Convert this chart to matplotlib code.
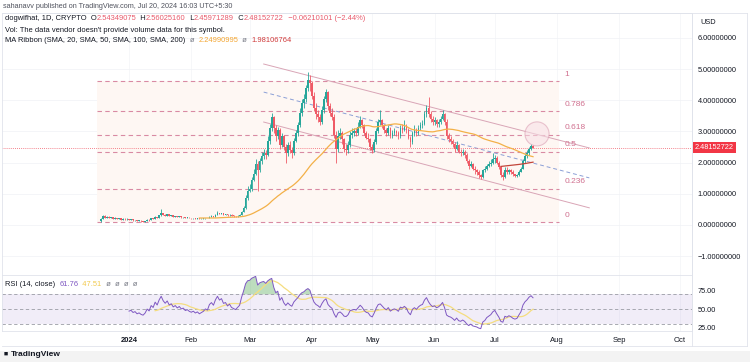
import numpy as np
import pandas as pd
import matplotlib
matplotlib.use('Agg')
import matplotlib.pyplot as plt
import matplotlib.dates as mdates
import matplotlib.transforms as mtransforms
from matplotlib.patches import Ellipse, Rectangle

plt.rcParams['font.family'] = ['Liberation Sans', 'DejaVu Sans']

# daily candles, 2023-12-18 .. 2024-07-20
start_day = '2023-12-18'
first_open = 0.13
close_dec = [0.20, 0.30, 0.24, 0.27, 0.22, 0.25, 0.20, 0.23, 0.19, 0.21, 0.17, 0.20, 0.18, 0.19]
high_dec = [0.24, 0.33, 0.31, 0.29, 0.28, 0.27, 0.26, 0.25, 0.24, 0.22, 0.22, 0.21, 0.21, 0.21]
low_dec = [0.11, 0.19, 0.22, 0.23, 0.21, 0.21, 0.19, 0.19, 0.18, 0.18, 0.16, 0.16, 0.17, 0.17]

close_jan = [0.17, 0.18, 0.15, 0.16, 0.13, 0.14, 0.12, 0.11, 0.13, 0.17, 0.15, 0.21, 0.19, 0.26, 0.23, 0.31,
             0.38, 0.33, 0.30, 0.34, 0.29, 0.31, 0.27, 0.29, 0.26, 0.28, 0.25, 0.26, 0.23, 0.24, 0.22]
high_jan = [0.20, 0.19, 0.19, 0.17, 0.17, 0.15, 0.15, 0.13, 0.14, 0.18, 0.18, 0.22, 0.22, 0.28, 0.27, 0.33,
            0.50, 0.40, 0.35, 0.36, 0.35, 0.33, 0.32, 0.30, 0.30, 0.29, 0.29, 0.27, 0.27, 0.25, 0.25]
low_jan = [0.16, 0.16, 0.14, 0.14, 0.12, 0.12, 0.11, 0.10, 0.10, 0.12, 0.14, 0.15, 0.18, 0.18, 0.22, 0.22,
           0.30, 0.32, 0.29, 0.29, 0.28, 0.28, 0.26, 0.26, 0.25, 0.25, 0.24, 0.24, 0.22, 0.22, 0.21]

close_feb = [0.21, 0.22, 0.20, 0.21, 0.19, 0.20, 0.21, 0.23, 0.22, 0.27, 0.29, 0.27, 0.33, 0.38, 0.35,
             0.37, 0.33, 0.34, 0.31, 0.33, 0.30, 0.29, 0.28, 0.30, 0.32, 0.42, 0.55, 0.85, 1.10]
high_feb = [0.23, 0.23, 0.23, 0.22, 0.21, 0.21, 0.22, 0.24, 0.24, 0.28, 0.31, 0.30, 0.35, 0.44, 0.40,
            0.39, 0.38, 0.35, 0.35, 0.35, 0.34, 0.31, 0.30, 0.31, 0.34, 0.45, 0.60, 0.95, 1.25]
low_feb = [0.20, 0.20, 0.19, 0.19, 0.18, 0.18, 0.19, 0.20, 0.21, 0.21, 0.26, 0.26, 0.27, 0.32, 0.34,
           0.34, 0.32, 0.32, 0.30, 0.30, 0.29, 0.27, 0.27, 0.27, 0.29, 0.31, 0.41, 0.52, 0.80]

close_mar = [1.15, 1.45, 1.65, 1.95, 1.75, 2.05, 2.20, 2.30, 2.25, 2.70, 3.10, 3.45, 3.10, 2.85, 3.05, 2.55,
             2.85, 2.50, 2.30, 2.55, 2.40, 2.30, 2.70, 2.95, 3.20, 3.60, 3.90, 4.05, 4.40, 4.65, 4.55]
high_mar = [1.30, 1.55, 1.80, 2.10, 2.05, 2.15, 2.35, 2.45, 2.40, 2.85, 3.25, 3.60, 3.50, 3.20, 3.15, 3.10,
            2.95, 2.90, 2.60, 2.65, 2.70, 2.50, 2.80, 3.05, 3.30, 3.75, 4.05, 4.20, 4.50, 4.90, 4.80]
low_mar = [1.05, 1.10, 1.40, 1.60, 1.10, 1.70, 1.95, 2.10, 2.10, 2.20, 2.60, 3.00, 2.95, 2.70, 2.75, 2.45,
           2.50, 2.40, 2.00, 2.20, 2.30, 2.15, 2.25, 2.65, 2.85, 3.15, 3.50, 3.75, 3.95, 4.30, 4.30]

close_apr = [4.15, 3.75, 3.55, 3.45, 3.30, 3.70, 4.05, 4.25, 3.80, 3.60, 3.45, 2.90, 2.45, 2.85, 2.95,
             2.75, 2.45, 2.40, 2.55, 2.90, 2.95, 3.00, 2.95, 3.15, 3.35, 3.20, 2.95, 2.80, 2.75, 2.50]
high_apr = [4.60, 4.25, 3.90, 3.70, 3.55, 3.80, 4.15, 4.35, 4.30, 3.90, 3.75, 3.55, 3.00, 3.05, 3.10,
            3.00, 2.80, 2.60, 2.70, 3.00, 3.10, 3.10, 3.10, 3.30, 3.50, 3.40, 3.25, 3.00, 2.95, 2.80]
low_apr = [4.05, 3.65, 3.40, 3.30, 3.20, 3.25, 3.60, 3.95, 3.70, 3.50, 3.35, 2.80, 2.00, 2.35, 2.75,
           2.60, 2.35, 2.25, 2.30, 2.50, 2.80, 2.85, 2.85, 2.90, 3.10, 3.10, 2.90, 2.75, 2.65, 2.40]

close_may = [2.40, 2.65, 3.00, 3.30, 3.35, 3.20, 3.05, 2.95, 3.10, 2.85, 2.95, 3.00, 2.95, 2.85, 3.10, 3.05,
             3.15, 3.05, 2.80, 2.65, 2.95, 3.05, 2.95, 3.10, 3.20, 3.25, 3.55, 3.75, 3.55, 3.40, 3.30]
high_may = [2.60, 2.75, 3.10, 3.40, 3.70, 3.40, 3.25, 3.10, 3.20, 3.15, 3.05, 3.10, 3.05, 3.00, 3.20, 3.25,
            3.35, 3.25, 3.10, 2.85, 3.00, 3.20, 3.10, 3.20, 3.30, 3.35, 3.65, 3.85, 4.10, 3.65, 3.50]
low_may = [2.30, 2.35, 2.60, 2.95, 3.20, 3.10, 2.95, 2.85, 2.90, 2.80, 2.80, 2.90, 2.85, 2.75, 2.80, 2.95,
           3.00, 2.95, 2.75, 2.50, 2.60, 2.85, 2.85, 2.90, 3.05, 3.10, 3.20, 3.45, 3.45, 3.30, 3.20]

close_jun = [3.35, 3.25, 3.30, 3.40, 3.55, 3.30, 2.85, 2.75, 2.70, 2.60, 2.45, 2.55, 2.35, 2.30, 2.35,
             2.25, 2.05, 1.90, 1.95, 1.80, 1.75, 1.70, 1.60, 1.55, 1.75, 1.80, 1.90, 1.95, 2.00, 2.10]
high_jun = [3.45, 3.40, 3.40, 3.50, 3.70, 3.60, 3.40, 2.95, 2.85, 2.75, 2.65, 2.70, 2.60, 2.45, 2.45,
            2.40, 2.30, 2.10, 2.05, 2.00, 1.90, 1.80, 1.75, 1.65, 1.80, 1.90, 1.95, 2.05, 2.10, 2.30]
low_jun = [3.20, 3.15, 3.15, 3.25, 3.35, 3.20, 2.75, 2.65, 2.60, 2.50, 2.35, 2.40, 2.30, 2.20, 2.25,
           2.15, 2.00, 1.80, 1.85, 1.75, 1.65, 1.60, 1.52, 1.47, 1.50, 1.70, 1.75, 1.85, 1.90, 1.95]

close_jul = [2.15, 2.00, 1.85, 1.60, 1.55, 1.75, 1.70, 1.75, 1.70, 1.62, 1.58, 1.60, 1.70, 1.80, 2.05,
             2.20, 2.30, 2.45, 2.5435, 2.4815]
high_jul = [2.25, 2.20, 2.05, 1.90, 1.70, 1.85, 1.85, 1.80, 1.80, 1.75, 1.65, 1.65, 1.75, 1.85, 2.10,
            2.30, 2.40, 2.50, 2.58, 2.5603]
low_jul = [2.00, 1.95, 1.80, 1.55, 1.45, 1.50, 1.65, 1.65, 1.65, 1.58, 1.55, 1.54, 1.58, 1.70, 1.78,
           2.00, 2.15, 2.25, 2.40, 2.4597]

# drawings
fib_prices = [0.096, 4.615]           # level 0 and level 1
fib_levels = [0, 0.236, 0.5, 0.618, 0.786, 1]
fib_dates = ['2023-12-16', '2024-08-02']
chan_dates = ['2024-03-08', '2024-08-17']
chan_upper = [5.16, 2.47]
chan_mid = [4.26, 1.51]
chan_lower = [3.30, 0.55]
circle_date, circle_price = '2024-07-22', 2.92
last_price = 2.48152722
price_ticks = [-1, 0, 1, 2, 3, 4, 5, 6]
rsi_ticks = [25, 50, 75]
month_ticks = ['2024-01-01', '2024-02-01', '2024-03-01', '2024-04-01', '2024-05-01', '2024-06-01',
               '2024-07-01', '2024-08-01', '2024-09-01', '2024-10-01']
month_labels = ['2024', 'Feb', 'Mar', 'Apr', 'May', 'Jun', 'Jul', 'Aug', 'Sep', 'Oct']

closes = np.array(close_dec + close_jan + close_feb + close_mar + close_apr + close_may + close_jun + close_jul)
highs = np.array(high_dec + high_jan + high_feb + high_mar + high_apr + high_may + high_jun + high_jul)
lows = np.array(low_dec + low_jan + low_feb + low_mar + low_apr + low_may + low_jun + low_jul)
opens = np.concatenate([[first_open], closes[:-1]])
highs = np.maximum(highs, np.maximum(opens, closes))
lows = np.minimum(lows, np.minimum(opens, closes))
dates = mdates.date2num(pd.date_range(start_day, periods=len(closes)))

cs = pd.Series(closes)
sma50 = cs.rolling(50).mean()
sma200 = cs.rolling(200).mean()

# RSI 14 with Wilder smoothing, seeded by a simple average
n = 14
d = np.diff(closes)
g = np.clip(d, 0, None)
l = np.clip(-d, 0, None)
rsi_vals = np.full(len(closes), np.nan)
ag, al = g[:n].mean(), l[:n].mean()
rsi_vals[n] = 100 - 100 / (1 + ag / al)
for i in range(n + 1, len(closes)):
    ag = (ag * (n - 1) + g[i - 1]) / n
    al = (al * (n - 1) + l[i - 1]) / n
    rsi_vals[i] = 100 - 100 / (1 + ag / al)
rsi = pd.Series(rsi_vals)
rsi_ma = rsi.rolling(14).mean()

W, H = 750, 362
fig = plt.figure(figsize=(W / 100, H / 100), dpi=100)
fig.patch.set_facecolor('white')

def px_axes(l, t, r, b):
    return fig.add_axes([l / W, 1 - b / H, (r - l) / W, (b - t) / H])

ax = px_axes(2, 13, 692, 275)
ax2 = px_axes(2, 275, 692, 331)

jan1 = mdates.date2num(pd.Timestamp('2024-01-01'))
xlim = (jan1 - 63.2, jan1 + 280.1)
for a in (ax, ax2):
    a.set_xlim(*xlim)
    for s in a.spines.values():
        s.set_color('#e0e3eb')
        s.set_linewidth(0.6)
    a.yaxis.tick_right()
    a.tick_params(axis='y', length=0, pad=4, labelsize=5.3, labelcolor='#131722')
    a.tick_params(axis='x', length=0)
    for m in month_ticks:
        a.axvline(mdates.date2num(pd.Timestamp(m)), color='#f3f4f7', lw=0.5, zorder=0)

ax.set_ylim(-1.603, 6.795)
ax.set_yticks(price_ticks)
ax.set_yticklabels(['{:.8f}'.format(v).replace('-', '\u2212') for v in price_ticks])
for v in price_ticks:
    ax.axhline(v, color='#f0f2f6', lw=0.5, zorder=0)
ax.set_xticks([])

# fib retracement
f0, f1 = fib_prices
fx0, fx1 = [mdates.date2num(pd.Timestamp(d)) for d in fib_dates]
ax.fill_between([fx0, fx1], f0, f1, color='#fef7f3', lw=0, zorder=0.5)
for lv in fib_levels:
    p = f0 + lv * (f1 - f0)
    ax.plot([fx0, fx1], [p, p], color='#d98aa3', lw=0.8, ls=(0, (4, 3)), zorder=1)
    ax.annotate('{:g}'.format(lv), (fx1, p), xytext=(4, 2.5), textcoords='offset points',
                fontsize=6, color='#d0708f', va='bottom', ha='left')

# channel
cx = [mdates.date2num(pd.Timestamp(d)) for d in chan_dates]
ax.plot(cx, chan_upper, color='#d9a5b6', lw=0.7, zorder=1)
ax.plot(cx, chan_lower, color='#d9a5b6', lw=0.7, zorder=1)
ax.plot(cx, chan_mid, color='#8b9fd6', lw=0.7, ls=(0, (4, 3)), zorder=1)

# candles
up = closes >= opens
col = np.where(up, '#26a69a', '#ef5a66')
ax.vlines(dates, lows, highs, colors=col, lw=0.6, zorder=3)
ax.bar(dates, np.maximum(np.abs(closes - opens), 0.015), bottom=np.minimum(opens, closes),
       width=0.8, color=col, lw=0, zorder=3)

ax.plot(dates, sma50, color='#f3b048', lw=0.9, zorder=4)
ax.plot(dates, sma200, color='#c2453a', lw=0.9, zorder=4)

# circle
cd = mdates.date2num(pd.Timestamp(circle_date))
ax.add_patch(Ellipse((cd, circle_price), 12, 0.77, fc='#f7dfe6', ec='#d99ab0', lw=0.8, alpha=0.55, zorder=5))

# last price
ax.axhline(last_price, color='#f05a67', lw=0.6, ls=(0, (1, 1.5)), zorder=2)
tr = mtransforms.blended_transform_factory(ax.transAxes, ax.transData)
ax.text(1.004, last_price, '2.48152722', transform=tr, fontsize=5.3, color='white', va='center', ha='left',
        bbox=dict(fc='#f23645', ec='none', pad=1.3), zorder=6)

# RSI panel
ax2.set_ylim(20.1, 96.3)
ax2.set_yticks(rsi_ticks)
ax2.set_yticklabels(['{:.2f}'.format(v) for v in rsi_ticks])
ax2.fill_between(xlim, 30, 70, color='#7e57c2', alpha=0.1, lw=0)
for v in (70, 50, 30):
    ax2.axhline(v, color='#9a9ca5', lw=0.6, ls=(0, (4, 3)))
ax2.fill_between(dates, 70, rsi, where=(rsi > 70), color='#43a047', alpha=0.35, lw=0, interpolate=True)
ax2.plot(dates, rsi_ma, color='#f5dd7f', lw=0.9)
ax2.plot(dates, rsi, color='#7e57c2', lw=0.7)
ax2.set_xticks([mdates.date2num(pd.Timestamp(m)) for m in month_ticks])
ax2.set_xticklabels(month_labels)
ax2.tick_params(axis='x', labelsize=5.5, labelcolor='#131722', pad=4)
ax2.get_xticklabels()[0].set_fontweight('bold')

# frame lines for the scale and time row
fig.add_artist(plt.Line2D([692 / W, 692 / W], [1 - 13 / H, 1 - 346 / H], color='#e0e3eb', lw=0.6))
fig.add_artist(plt.Line2D([2 / W, 747 / W], [1 - 346 / H, 1 - 346 / H], color='#e0e3eb', lw=0.6))
fig.add_artist(plt.Line2D([2 / W, 747 / W], [1 - 13 / H, 1 - 13 / H], color='#e0e3eb', lw=0.6))
fig.add_artist(plt.Line2D([747 / W, 747 / W], [1 - 13 / H, 1 - 346 / H], color='#e0e3eb', lw=0.6))
fig.add_artist(Rectangle((0, 0), 1, 11 / H, transform=fig.transFigure, color='#f3f3f3', lw=0, zorder=-1))

renderer = fig.canvas.get_renderer()

def pieces(x, y, parts, size=5.4):
    for s, c in parts:
        t = fig.text(x / W, 1 - y / H, s, color=c, fontsize=size, va='center', ha='left')
        x += t.get_window_extent(renderer).width

dark = '#131722'
red = '#e8596b'
pieces(3, 6, [('sahanavv published on TradingView.com, Jul 20, 2024 16:03 UTC+5:30', '#50535e')], 5.2)
pieces(5, 19, [('dogwifhat, 1D, CRYPTO  O', dark), ('2.54349075', red), ('  H', dark), ('2.56025160', red),
               ('  L', dark), ('2.45971289', red), ('  C', dark), ('2.48152722', red),
               ('  \u22120.06210101 (\u22122.44%)', red)])
pieces(5, 30, [("Vol: The data vendor doesn't provide volume data for this symbol.", dark)])
pieces(5, 41, [('MA Ribbon (SMA, 20, SMA, 50, SMA, 100, SMA, 200)  ', dark), ('\u00f8  ', '#787b86'),
               ('2.24990995', '#f3a530'), ('  \u00f8  ', '#787b86'), ('1.98106764', '#d03a3a')])
pieces(5, 284, [('RSI (14, close)  ', dark), ('61.76', '#7e57c2'), ('  47.51', '#f2c94c'),
                ('  \u00f8  \u00f8  \u00f8  \u00f8', '#787b86')])
fig.text(700 / W, 1 - 22 / H, 'USD', fontsize=5.3, color=dark, va='center')
fig.text(4 / W, 1 - 354 / H, '\u25a0', fontsize=5, color=dark, va='center')
fig.text(11 / W, 1 - 354 / H, 'TradingView', fontsize=6, color=dark, va='center', fontweight='bold')

fig.savefig('out.png', dpi=100, facecolor='white')
